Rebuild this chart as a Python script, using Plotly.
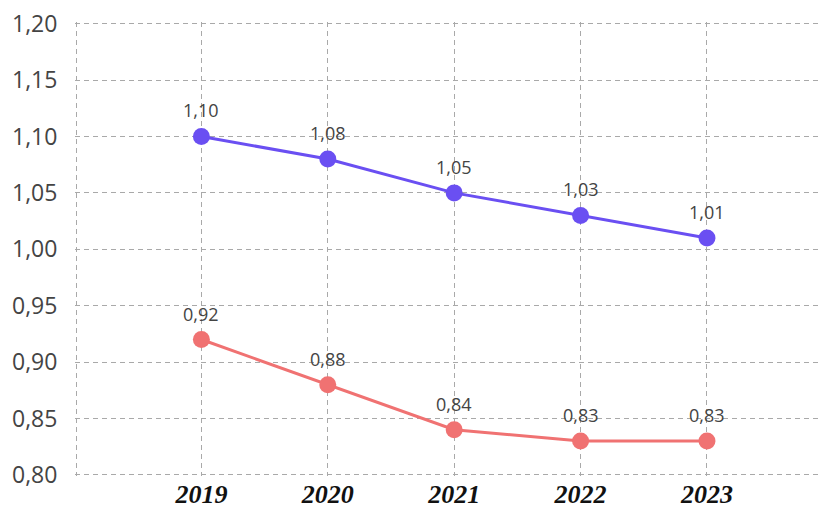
import plotly.graph_objects as go

years = ["2019", "2020", "2021", "2022", "2023"]
series_top = [1.10, 1.08, 1.05, 1.03, 1.01]
series_bottom = [0.92, 0.88, 0.84, 0.83, 0.83]
y_ticks = [0.80, 0.85, 0.90, 0.95, 1.00, 1.05, 1.10, 1.15, 1.20]

PURPLE = "#6a4ff2"
CORAL = "#f07272"
GRID = "#a9a9a9"
DASH = "5px,4px"

x_pos = list(range(len(years)))


def fmt(v):
    return f"{v:.2f}".replace(".", ",")


fig = go.Figure()
for vals, color in ((series_top, PURPLE), (series_bottom, CORAL)):
    fig.add_trace(go.Scatter(
        x=x_pos, y=vals, mode="lines+markers",
        line=dict(color=color, width=3),
        marker=dict(color=color, size=17),
        hoverinfo="skip", showlegend=False,
    ))
    for xi, v in zip(x_pos, vals):
        fig.add_annotation(
            x=xi, y=v, text=fmt(v), showarrow=False,
            yshift=26, font=dict(family="Open Sans", size=18, color="#444444"),
        )

fig.update_layout(
    width=822, height=516,
    margin=dict(l=75, r=0, t=22, b=40),
    paper_bgcolor="white", plot_bgcolor="white",
    separators=",.",
)
fig.update_xaxes(
    range=[-1.0, 4.91],
    tickvals=[-0.99] + x_pos,
    ticktext=[""] + [f"<b><i>{y}</i></b>" for y in years],
    showgrid=True, gridcolor=GRID, griddash=DASH, gridwidth=1.3,
    zeroline=False, showline=False, automargin=False,
    ticks="",
    tickfont=dict(family="Liberation Serif", size=26, color="#111"),
)
fig.update_yaxes(
    range=[0.799, 1.2015],
    tickvals=y_ticks, ticktext=[fmt(v) for v in y_ticks],
    showgrid=True, gridcolor=GRID, griddash=DASH, gridwidth=1.3,
    zeroline=False, showline=False, automargin=False,
    ticks="outside", ticklen=12, tickcolor="rgba(0,0,0,0)",
    tickfont=dict(family="Open Sans", size=23, color="#444444"),
)

fig.write_html("out.html")
